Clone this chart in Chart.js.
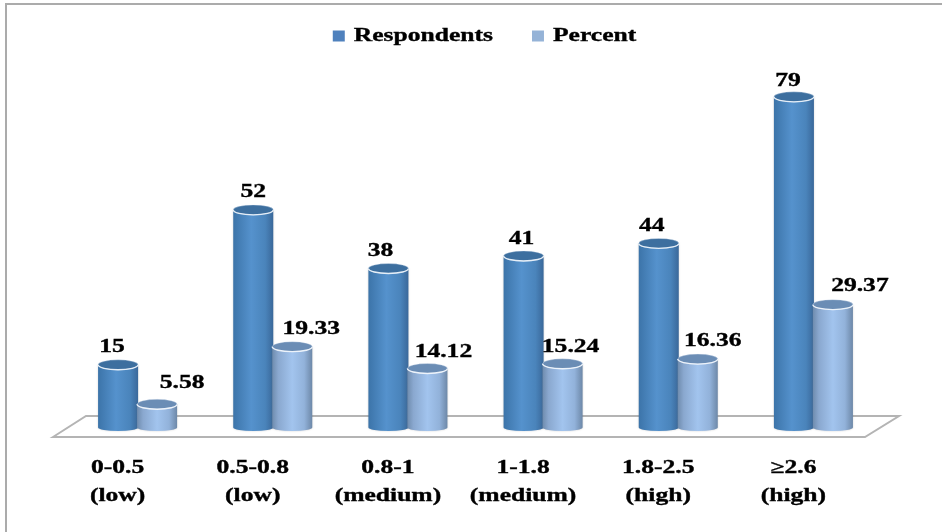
<!DOCTYPE html>
<html><head><meta charset="utf-8">
<style>
html,body{margin:0;padding:0;background:#fff;overflow:hidden}
#wrap{position:absolute;left:0;top:0;width:942px;height:532px}
#frame{position:absolute;left:5px;top:3px;width:937px;height:529px;border-left:2px solid #ababab;border-top:2px solid #ababab;pointer-events:none}
canvas{filter:blur(0.45px)}
</style>
<script src="https://cdn.jsdelivr.net/npm/chart.js@4"></script>
</head><body>
<div id="wrap"><canvas id="c" width="942" height="532"></canvas><div id="frame"></div></div>
<script>
const categories = [['0-0.5','(low)'],['0.5-0.8','(low)'],['0.8-1','(medium)'],['1-1.8','(medium)'],['1.8-2.5','(high)'],['≥2.6','(high)']];
const respondents = [15,52,38,41,44,79];
const percent = [5.58,19.33,14.12,15.24,16.36,29.37];
const respondentLabels = ['15','52','38','41','44','79'];
const percentLabels = ['5.58','19.33','14.12','15.24','16.36','29.37'];
const nudgeDark = [[-6,-17],[0,-18],[-8,-17],[-2,-17],[-7,-17],[-6,-16]];
const nudgeLight = [[25,-21],[19,-17],[16,-16],[8,-16],[15,-18],[27,-18]];
const FONT = '"Liberation Serif"';
const RY = 5;
const STRETCH = 1.42;

// The reference's text is horizontally stretched and heavy: widen all text the library draws.
const canvas=document.getElementById('c');
const c2d=canvas.getContext('2d');
const rawFill=c2d.fillText.bind(c2d), rawStroke=c2d.strokeText.bind(c2d), rawMeasure=c2d.measureText.bind(c2d);
c2d.fillText=function(t,x,y){
  c2d.save(); c2d.translate(x,y); c2d.scale(STRETCH,1);
  rawFill(t,0,0);
  c2d.strokeStyle=c2d.fillStyle; c2d.lineWidth=0.35; rawStroke(t,0,0);
  c2d.restore();
};
c2d.measureText=function(t){ const m=rawMeasure(t); return {width:m.width*STRETCH,actualBoundingBoxAscent:m.actualBoundingBoxAscent,actualBoundingBoxDescent:m.actualBoundingBoxDescent}; };

function cylinder(ctx, el, stops, cap, rim){
  const x=el.x, w=el.width, top=el.y, base=el.base, l=x-w/2, r=x+w/2;
  const g=ctx.createLinearGradient(l,0,r,0);
  stops.forEach(s=>g.addColorStop(s[0],s[1]));
  ctx.save();
  ctx.shadowColor='rgba(90,90,90,0.3)'; ctx.shadowBlur=2;
  ctx.beginPath();
  ctx.moveTo(l,top);
  ctx.lineTo(l,base);
  ctx.ellipse(x,base,w/2,RY-1.5,0,Math.PI,0,true);
  ctx.lineTo(r,top);
  ctx.closePath();
  ctx.fillStyle=g; ctx.fill();
  ctx.restore();
  ctx.beginPath();
  ctx.ellipse(x,top,w/2,RY,0,0,Math.PI*2);
  ctx.fillStyle=cap; ctx.fill();
  ctx.lineWidth=1; ctx.strokeStyle='rgba(235,242,250,0.35)'; ctx.stroke();
  ctx.beginPath();
  ctx.ellipse(x,top,w/2,RY,0,0,Math.PI);
  ctx.lineWidth=1.4; ctx.strokeStyle=rim; ctx.stroke();
}
const cylinders={
  id:'cylinders',
  afterLayout(chart){ chart.legend.left+=9; chart.legend.right+=9; },
  beforeDatasetDraw(){ return false; },
  beforeDatasetsDraw(chart){
    const ctx=chart.ctx, a=chart.chartArea;
    ctx.save();
    ctx.beginPath();
    ctx.moveTo(a.left-17,a.bottom+13);
    ctx.lineTo(a.left+16,a.bottom-8);
    ctx.lineTo(a.right+18,a.bottom-8);
    ctx.lineTo(a.right-16,a.bottom+13);
    ctx.closePath();
    ctx.lineWidth=2; ctx.strokeStyle='#b4b4b4'; ctx.stroke();
    ctx.restore();
    const darkStops=[[0,'#3c74a9'],[0.45,'#5592cd'],[0.8,'#4a84bb'],[1,'#3a689a']];
    const lightStops=[[0,'#6f8cae'],[0.15,'#8aa8cf'],[0.5,'#a2c4ee'],[0.8,'#92b2da'],[1,'#6d88a8']];
    chart.getDatasetMeta(0).data.forEach(el=>cylinder(ctx,el,darkStops,'#3d6f9f','rgba(235,242,250,0.95)'));
    chart.getDatasetMeta(1).data.forEach(el=>cylinder(ctx,el,lightStops,'#6b8db5','rgba(240,245,252,0.95)'));
  },
  afterDatasetsDraw(chart){
    const ctx=chart.ctx;
    ctx.save();
    ctx.font='bold 18px '+FONT;
    ctx.fillStyle='#000';
    ctx.textAlign='center'; ctx.textBaseline='middle';
    chart.getDatasetMeta(0).data.forEach((el,i)=>ctx.fillText(respondentLabels[i],el.x+nudgeDark[i][0],el.y+nudgeDark[i][1]));
    chart.getDatasetMeta(1).data.forEach((el,i)=>ctx.fillText(percentLabels[i],el.x+nudgeLight[i][0],el.y+nudgeLight[i][1]));
    ctx.restore();
  }
};
new Chart(canvas,{
  type:'bar',
  data:{labels:categories,datasets:[
    {label:'Respondents',data:respondents,backgroundColor:'#4f81bd',borderWidth:0},
    {label:'Percent',data:percent,backgroundColor:'#95b3d7',borderWidth:0}
  ]},
  options:{
    responsive:false,animation:false,
    layout:{padding:{left:70,right:61,top:-12,bottom:0}},
    datasets:{bar:{categoryPercentage:0.577,barPercentage:1.026}},
    plugins:{
      tooltip:{enabled:false},
      legend:{display:true,position:'top',align:'center',onClick:null,
        labels:{boxWidth:12,boxHeight:11,padding:39,color:'#000',font:{family:FONT,weight:'bold',size:18}}}
    },
    scales:{
      x:{grid:{display:false,drawTicks:false},border:{display:false},
        afterFit(scale){ scale.height=108; },
        ticks:{padding:30,color:'#000',autoSkip:false,maxRotation:0,minRotation:0,labelOffset:-20,
          font:{family:FONT,weight:'bold',size:18,lineHeight:1.556}}},
      y:{display:false,min:0.86,max:89}
    }
  },
  plugins:[cylinders]
});
</script>
</body></html>
